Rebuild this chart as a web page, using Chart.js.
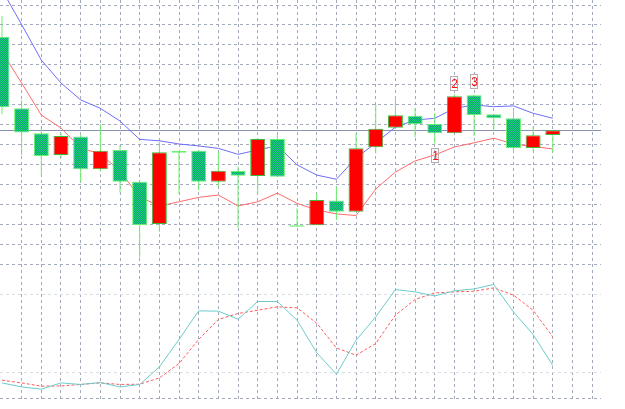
<!DOCTYPE html>
<html>
<head>
<meta charset="utf-8">
<script src="https://cdn.jsdelivr.net/npm/chart.js@4.4.1/dist/chart.umd.min.js"></script>
<style>
html,body{margin:0;padding:0;background:#ffffff;}
canvas{display:block;}
</style>
</head>
<body>
<canvas id="c" width="625" height="409"></canvas>
<script>
// ---- data (price units) ----
const open  = [194.1,158.2,145.7,134.8,144.0,127.6,137.3,121.4,100.2,136.8,136.9,121.4,126.7,124.2,142.8,99.5,99.5,112.0,106.3,138.6,148.5,154.5,150.3,145.7,164.7,155.2,153.2,138.3,144.8];
const high  = [204.5,162.4,148.3,145.8,144.8,150.3,139.8,122.2,141.4,136.8,137.3,136.4,128.9,143.3,145.7,108.0,115.6,118.9,145.7,160.2,164.0,158.2,155.7,165.2,164.9,155.2,157.4,149.0,147.2];
const low   = [155.3,134.8,124.7,133.3,121.4,126.4,115.9,83.4,96.3,115.2,117.2,118.9,98.3,115.2,123.9,98.8,99.5,102.2,106.3,135.6,148.5,143.7,140.6,145.7,144.3,147.0,135.6,136.9,135.9];
const close = [158.7,146.0,134.3,144.3,127.6,136.9,121.4,99.6,136.1,135.9,121.4,126.9,124.4,142.8,123.9,98.8,112.2,106.3,138.1,148.0,154.7,150.2,145.7,164.2,154.8,153.2,138.1,144.7,147.2];

const maBlue = [217.6,200.2,182.4,170.9,162.4,158.2,151.8,142.6,141.9,140.3,139.3,138.1,135.1,137.3,139.4,129.8,124.7,122.6,133.3,140.8,148.8,152.3,153.2,158.2,159.9,159.0,159.4,155.7,153.2];
const maRed  = [186.5,170.9,154.8,148.3,138.3,135.3,126.7,113.7,109.2,111.3,113.5,114.7,109.2,111.3,115.6,110.5,107.2,105.2,104.4,117.7,126.2,131.8,134.8,138.8,140.9,143.2,140.3,139.0,137.8];

const stochMain   = [12.0,8.9,7.2,12.0,10.8,12.3,8.9,10.8,24.3,45.4,67.4,67.2,61.0,74.6,74.6,60.2,35.2,18.7,44.8,62.8,83.8,82.0,78.9,82.8,84.3,87.7,66.6,49.2,25.4];
const stochSignal = [14.1,12.0,9.5,9.7,10.8,12.0,10.8,11.0,15.8,26.9,45.4,60.8,65.4,67.9,70.5,69.7,57.9,38.9,33.3,42.3,64.1,76.2,81.2,82.0,82.5,85.1,79.5,67.9,47.4];

const levelPrice = 147.3;
const markerIndex = [22, 23, 24];
const markerPrice = [134.3, 170.4, 171.4];
const markerText  = ['1', '2', '3'];

const priceGrid = [80,90,100,110,120,130,140,150,160,170,180,190,200,210];
const stochLevels = [0, 20, 80];
const timeGrid = [1,2,3,4,5,6,7,8,9,10,11,12,13,14,15,16,17,18,19,20,21,22,23,24,25,26,27,28,29,30];

// ---- build ----
const canvas = document.getElementById('c');
const ctx0 = canvas.getContext('2d');
const pc = document.createElement('canvas');
pc.width = 2; pc.height = 2;
const pg = pc.getContext('2d');
pg.fillStyle = '#08d868'; pg.fillRect(0,0,2,2);
pg.fillStyle = '#1a9c84'; pg.fillRect(1,0,1,1); pg.fillRect(0,1,1,1);
const greenFill = ctx0.createPattern(pc, 'repeat');

const idx = open.map((_, i) => i);
const isDown = idx.map(i => close[i] < open[i]);

const gridDark = '#a3aabb';
const gridLight = '#d9dde5';

const levelLine = {
  id: 'levelLine',
  beforeDatasetsDraw(chart) {
    const {ctx, chartArea, scales} = chart;
    const y = Math.round(scales.y.getPixelForValue(levelPrice) - 0.5) + 0.5;
    ctx.save();
    ctx.strokeStyle = '#8a92b2';
    ctx.lineWidth = 1;
    ctx.beginPath();
    ctx.moveTo(chartArea.left, y);
    ctx.lineTo(chartArea.right, y);
    ctx.stroke();
    ctx.restore();
  }
};

const markers = {
  id: 'markers',
  afterDatasetsDraw(chart) {
    const {ctx, scales} = chart;
    ctx.save();
    ctx.font = '12px "Liberation Sans", Arial, sans-serif';
    ctx.textAlign = 'center';
    ctx.textBaseline = 'middle';
    markerIndex.forEach((ix, k) => {
      const x = scales.x.getPixelForValue(ix);
      const y = scales.y.getPixelForValue(markerPrice[k]);
      const w = 8, h = 15;
      ctx.strokeStyle = '#b9abab';
      ctx.lineWidth = 1;
      ctx.strokeRect(Math.round(x - w / 2) + 0.5, Math.round(y - h / 2) + 0.5, w - 1, h - 1);
      ctx.fillStyle = '#ff1010';
      ctx.fillText(markerText[k], Math.round(x) + 0.5, Math.round(y) + 1);
    });
    ctx.restore();
  }
};

new Chart(canvas, {
  type: 'bar',
  data: {
    datasets: [
      {
        type: 'bar',
        label: 'body',
        data: idx.map(i => ({x: i, y: [open[i], close[i]]})),
        backgroundColor: idx.map(i => isDown[i] ? greenFill : '#ff0000'),
        borderColor: idx.map(i => isDown[i] ? '#66f070' : '#3cb83c'),
        borderWidth: 1,
        borderSkipped: false,
        barThickness: 15,
        grouped: false,
        inflateAmount: 0,
        yAxisID: 'y',
        order: 1
      },
      {
        type: 'bar',
        label: 'wick',
        data: idx.map(i => ({x: i, y: [low[i], high[i]]})),
        backgroundColor: '#6cec6c',
        borderWidth: 0,
        barThickness: 1,
        grouped: false,
        inflateAmount: 0,
        yAxisID: 'y',
        order: 2
      },
      {
        type: 'line',
        label: 'maBlue',
        data: idx.map(i => ({x: i, y: maBlue[i]})),
        borderColor: '#6e6eff',
        borderWidth: 1,
        pointRadius: 0,
        tension: 0,
        yAxisID: 'y',
        order: 3
      },
      {
        type: 'line',
        label: 'maRed',
        data: idx.map(i => ({x: i, y: maRed[i]})),
        borderColor: '#ff6a6a',
        borderWidth: 1,
        pointRadius: 0,
        tension: 0,
        yAxisID: 'y',
        order: 4
      },
      {
        type: 'line',
        label: 'stochSignal',
        data: idx.map(i => ({x: i, y: stochSignal[i]})),
        borderColor: '#ff5a5a',
        borderWidth: 1,
        borderDash: [3, 2],
        pointRadius: 0,
        tension: 0,
        yAxisID: 'y2',
        order: 6
      },
      {
        type: 'line',
        label: 'stochMain',
        data: idx.map(i => ({x: i, y: stochMain[i]})),
        borderColor: '#6ccccc',
        borderWidth: 1,
        pointRadius: 0,
        tension: 0,
        yAxisID: 'y2',
        order: 5
      }
    ]
  },
  options: {
    responsive: false,
    animation: false,
    devicePixelRatio: 1,
    layout: {padding: {left: 0, right: 24, top: 0, bottom: 10.5}},
    plugins: {legend: {display: false}, tooltip: {enabled: false}},
    scales: {
      x: {
        type: 'linear', min: -0.1, max: 30.45, offset: false,
        afterBuildTicks: s => { s.ticks = timeGrid.map(v => ({value: v})); },
        ticks: {display: false},
        grid: {color: gridDark, drawTicks: false, lineWidth: 1, offset: false},
        border: {display: false, dash: [3, 3]}
      },
      y: {
        type: 'linear', position: 'left', min: 12.59, max: 212.54,
        afterBuildTicks: s => { s.ticks = priceGrid.map(v => ({value: v})); },
        ticks: {display: false},
        grid: {color: gridDark, drawTicks: false, lineWidth: 1},
        border: {display: false, dash: [3, 3]}
      },
      y2: {
        type: 'linear', position: 'right', min: 0, max: 306.5,
        afterBuildTicks: s => { s.ticks = stochLevels.map(v => ({value: v})); },
        ticks: {display: false},
        grid: {color: c => (c.tick && c.tick.value === 0) ? gridDark : gridLight, drawTicks: false, lineWidth: 1},
        border: {display: false, dash: [3, 3]}
      }
    }
  },
  plugins: [levelLine, markers]
});
</script>
</body>
</html>
